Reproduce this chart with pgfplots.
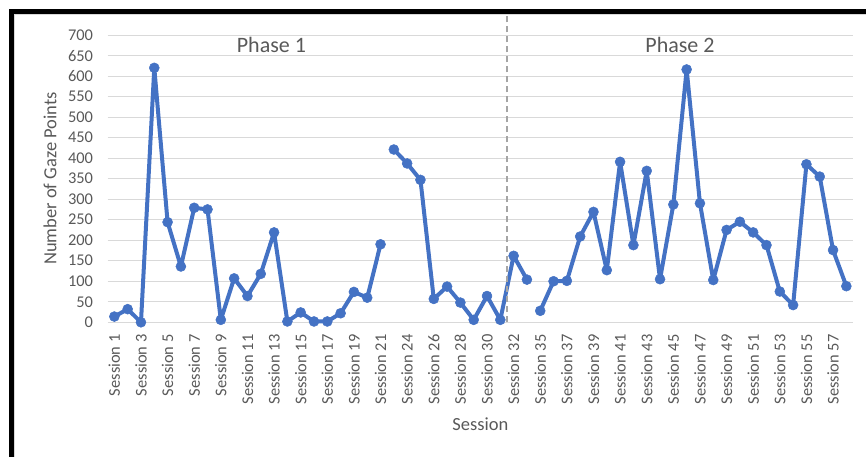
\documentclass[border=0pt]{standalone}
\usepackage{fontspec}
\setmainfont{Carlito}
\usepackage{pgfplots}
\pgfplotsset{compat=1.18}
\definecolor{ln}{RGB}{68,114,196}
\definecolor{grd}{RGB}{217,217,217}
\definecolor{txt}{RGB}{89,89,89}
\definecolor{dsh}{RGB}{165,165,165}
\begin{document}
\begin{tikzpicture}[x=1pt,y=1pt]
\useasboundingbox (0,0) rectangle (866,457);
% frame
\fill[black] (9,0) rectangle (13.5,447.5);
\fill[black] (9,443) rectangle (866,447.5);
\draw[grd, line width=1pt] (14,0) -- (14,442.5) -- (866,442.5);
\begin{axis}[
  at={(107.7pt,134.7pt)}, anchor=south west,
  scale only axis, width=745.3pt, height=287.3pt,
  xmin=-0.5, xmax=55.5, ymin=0, ymax=700,
  ytick={0,50,...,700},
  ymajorgrids, major grid style={grd, line width=1pt},
  axis line style={draw=none},
  major tick length=0pt,
  /pgf/number format/assume math mode=true,
  xtick={0,2,...,54},
  xticklabels={Session 1,Session 3,Session 5,Session 7,Session 9,Session 11,Session 13,Session 15,Session 17,Session 19,Session 21,Session 24,Session 26,Session 28,Session 30,Session 32,Session 35,Session 37,Session 39,Session 41,Session 43,Session 45,Session 47,Session 49,Session 51,Session 53,Session 55,Session 57},
  xticklabel shift=12pt,
  yticklabel shift=14.5pt,
  xticklabel style={rotate=90, anchor=east, inner sep=0pt, font=\fontsize{16.4}{16.4}\selectfont, text=txt},
  yticklabel style={anchor=east, inner sep=0pt, font=\fontsize{16.4}{16.4}\selectfont, text=txt},
  ylabel={Number of Gaze Points},
  xlabel={Session},
  every axis y label/.style={at={(axis description cs:-0.0774,0.5)}, rotate=90, anchor=center, font=\fontsize{18.5}{18.5}\selectfont, text=txt},
  every axis x label/.style={at={(axis description cs:0.5,-0.354)}, anchor=center, font=\fontsize{18.5}{18.5}\selectfont, text=txt},
  unbounded coords=jump,
  clip=false,
]
\addplot[color=ln, line width=4pt, line join=round, line cap=round, mark=*, mark size=5pt, mark options={solid, line width=0.5pt, fill=ln}] coordinates {
(0,14) (1,32) (2,0) (3,620) (4,244) (5,136) (6,279) (7,275) (8,6) (9,107)
(10,64) (11,118) (12,219) (13,2) (14,24) (15,2) (16,2) (17,22) (18,74) (19,60)
(20,190) (20.5,nan)
(21,421) (22,387) (23,347) (24,57) (25,87) (26,48) (27,6) (28,64) (29,6) (30,162)
(31,104) (31.5,nan)
(32,28) (33,100) (34,101) (35,209) (36,269) (37,127) (38,391) (39,188) (40,369)
(41,105) (42,287) (43,616) (44,290) (45,103) (46,225) (47,245) (48,219) (49,188)
(50,75) (51,42) (52,385) (53,355) (54,176) (55,88)
};
\draw[dsh, line width=1.3pt, dash pattern=on 6pt off 4pt] (axis cs:29.5,0) -- (axis cs:29.5,751);
\node[font=\fontsize{22}{22}\selectfont, text=txt] at (axis cs:11.8,675.5) {Phase 1};
\node[font=\fontsize{22}{22}\selectfont, text=txt] at (axis cs:42.5,675.5) {Phase 2};
\end{axis}
\end{tikzpicture}
\end{document}
